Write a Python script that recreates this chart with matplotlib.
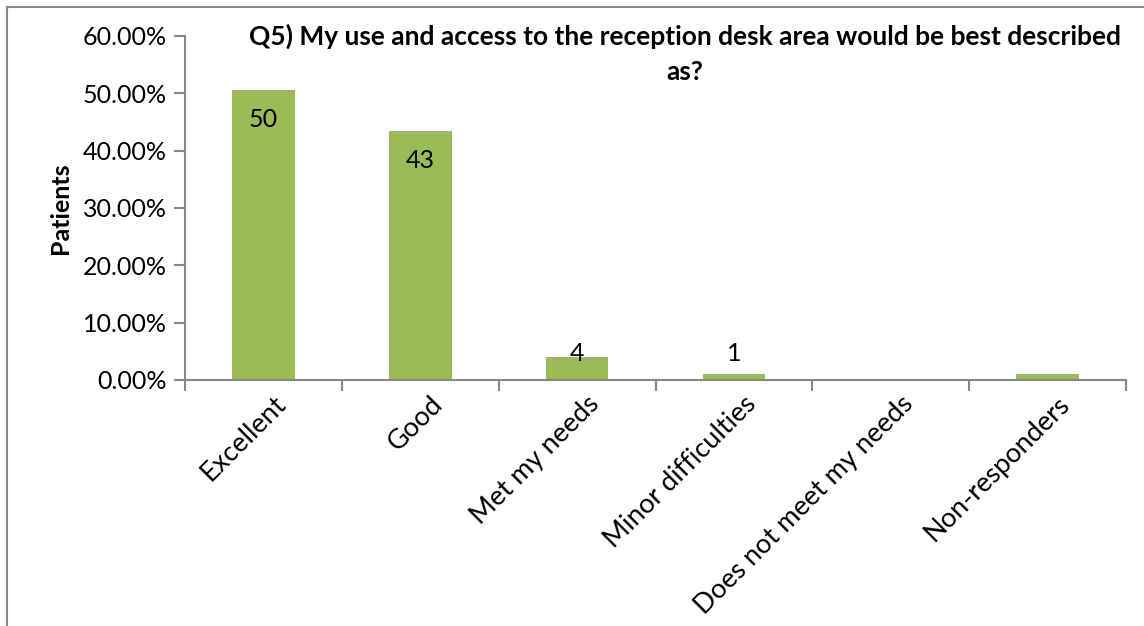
import matplotlib.pyplot as plt
from matplotlib.lines import Line2D
from matplotlib.ticker import FuncFormatter

categories = ['Excellent', 'Good', 'Met my needs', 'Minor difficulties',
              'Does not meet my needs', 'Non-responders']
counts = [50, 43, 4, 1, 0, 1]
shown_labels = [True, True, True, True, False, False]
total = sum(counts)
shares = [c / total for c in counts]

title = 'Q5) My use and access to the reception desk area would be best described\nas?'

plt.rcParams['font.family'] = ['Lato', 'DejaVu Sans']

fig = plt.figure(figsize=(11.44, 6.26), dpi=100)
ax = fig.add_axes([0.1617, 0.393, 0.8226, 0.5495])

x = list(range(len(categories)))
bars = ax.bar(x, shares, width=0.4, color='#9BBB59', zorder=2)

# count labels: inside the top of tall bars, floating just above short ones
for bar, n, show in zip(bars, counts, shown_labels):
    if not show:
        continue
    top = bar.get_height()
    cx = bar.get_x() + bar.get_width() / 2
    if top > 0.1:
        ax.annotate(str(n), (cx, top), xytext=(0, -21),
                    textcoords='offset points',
                    ha='center', va='center', fontsize=18)
    else:
        ax.annotate(str(n), (cx, 0.046), ha='center', va='center', fontsize=18)

ax.set_xlim(-0.5, len(categories) - 0.5)
ax.set_ylim(0, 0.6)
ax.set_yticks([0, 0.1, 0.2, 0.3, 0.4, 0.5, 0.6])
ax.yaxis.set_major_formatter(FuncFormatter(lambda v, _: f'{v * 100:.2f}%'))

# category ticks sit on the boundaries, names rotated under the bar centres
ax.set_xticks([i - 0.5 for i in range(len(categories) + 1)])
ax.set_xticklabels([])
ax.tick_params(axis='x', length=8, width=1.5, color='#888888', direction='out')
ax.tick_params(axis='y', length=8, width=1.5, color='#888888', direction='out',
               labelsize=18, pad=5)
for i, name in enumerate(categories):
    ax.text(i + 0.06, -0.02, name, rotation=45, rotation_mode='anchor',
            ha='right', va='top', fontsize=19.5, transform=ax.transData)

for side in ['top', 'right']:
    ax.spines[side].set_visible(False)
for side in ['left', 'bottom']:
    ax.spines[side].set_color('#888888')
    ax.spines[side].set_linewidth(1.5)

ax.set_ylabel('Patients', fontsize=18, fontweight='bold', labelpad=8)

fig.text(0.599, 0.962, title, ha='center', va='top', fontsize=19,
         fontweight='bold', linespacing=1.55)

# chart frame: only the left and top edges fall inside the image
fx, fy = 6.5 / 1144, 1 - 6.5 / 626
fig.add_artist(Line2D([fx, fx], [0, fy], transform=fig.transFigure,
                      color='#888888', linewidth=1.5))
fig.add_artist(Line2D([fx, 1], [fy, fy], transform=fig.transFigure,
                      color='#888888', linewidth=1.5))

fig.savefig('out.png', dpi=100)
